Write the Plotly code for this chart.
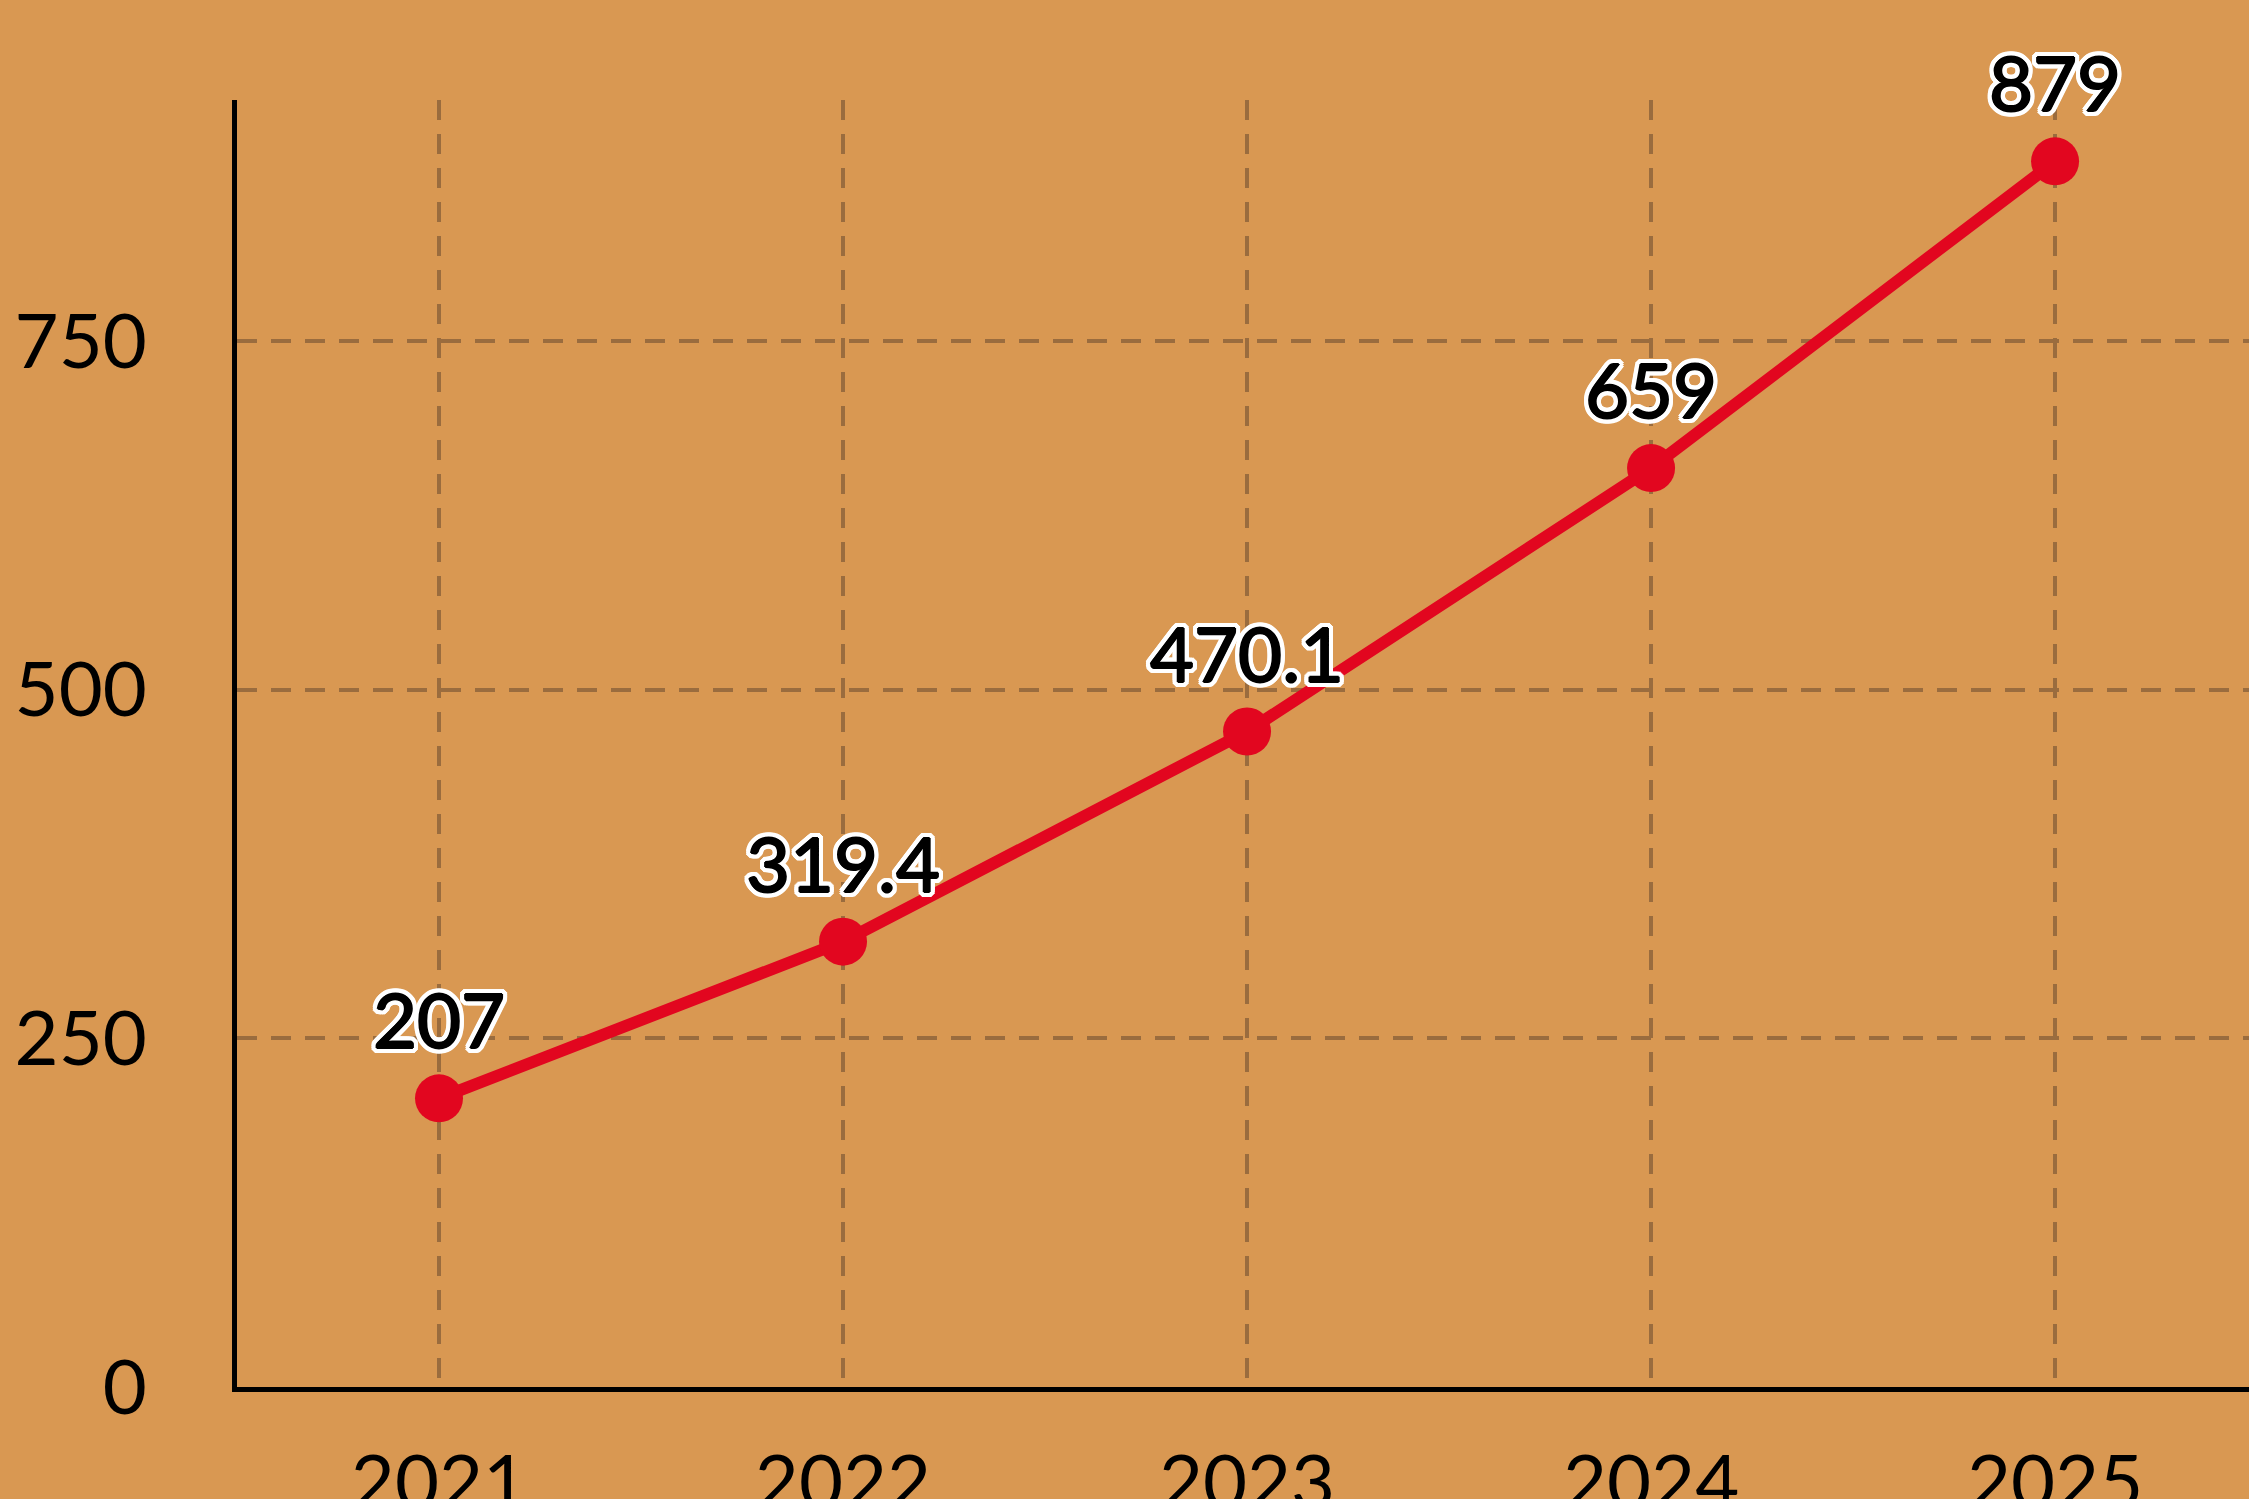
import plotly.graph_objects as go

years = ["2021", "2022", "2023", "2024", "2025"]
values = [207, 319.4, 470.1, 659, 879]
labels = ["207", "319.4", "470.1", "659", "879"]
y_ticks = [0, 250, 500, 750]

BG = "#D99852"
GRID = "#9A6C3E"
RED = "#E2061F"

bold = [(-1, 0), (1, 0), (0, -1), (0, 1)]
pts = [(-5, 0), (5, 0), (0, -5), (0, 5), (-4, -3), (4, 3), (-4, 3), (4, -3),
       (-3, -4), (3, -4), (-3, 4), (3, 4), (-5, -2), (5, -2), (-5, 2), (5, 2),
       (-2, -5), (2, -5), (-2, 5), (2, 5)]
outline = ",".join([f"{dx}px {dy}px 0 black" for dx, dy in bold] +
                   [f"{dx}px {dy}px 0 white" for dx, dy in pts])

fig = go.Figure()
fig.add_trace(go.Scatter(
    x=years, y=values, mode="lines+markers+text",
    text=labels, textposition="top center",
    textfont=dict(family="Lato", size=76, color="black", shadow=outline),
    line=dict(color=RED, width=12),
    marker=dict(color=RED, size=48),
    cliponaxis=False,
))

fig.update_layout(
    width=2249, height=1499,
    paper_bgcolor=BG, plot_bgcolor=BG,
    margin=dict(l=237, r=0, t=100, b=112),
    showlegend=False,
    font=dict(family="Lato", color="black"),
)
fig.update_xaxes(
    type="category", range=[-0.5, 4.48], automargin=False,
    showgrid=True, gridcolor=GRID, gridwidth=4, griddash="20px,14px",
    showline=True, linecolor="black", linewidth=5,
    tickfont=dict(size=76), ticks="", ticklabelstandoff=26,
)
fig.update_yaxes(
    range=[0, 923], tickvals=y_ticks, automargin=False,
    showgrid=True, gridcolor=GRID, gridwidth=4, griddash="20px,14px",
    zeroline=False,
    showline=True, linecolor="black", linewidth=5,
    tickfont=dict(size=76), ticks="", ticklabelstandoff=70,
)
fig.write_html("out.html", config={"displayModeBar": False},
               post_script="document.body.style.margin='0';document.body.style.overflow='hidden';")
